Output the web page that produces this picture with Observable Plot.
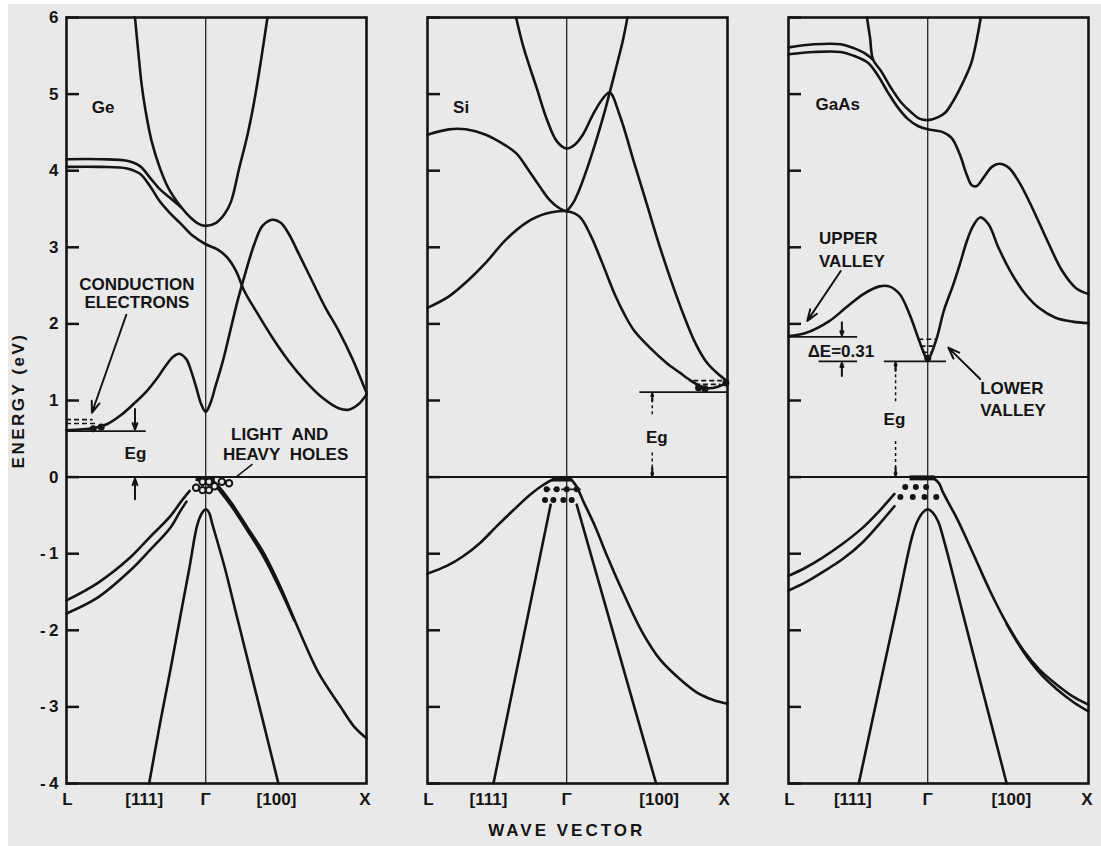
<!DOCTYPE html>
<html><head><meta charset="utf-8">
<script src="https://cdn.jsdelivr.net/npm/d3@7"></script>
<script src="https://cdn.jsdelivr.net/npm/@observablehq/plot@0.6"></script>
<style>
html,body{margin:0;padding:0;background:#e9e9e9;}
#chart{position:absolute;left:0;top:0;}
.edgeL{position:absolute;left:0;top:0;width:8px;height:846px;background:#fff;}
.edgeT{position:absolute;left:0;top:0;width:1101px;height:4px;background:#fff;}
</style></head><body>
<div id="chart"></div><div class="edgeL"></div><div class="edgeT"></div>
<script>
// ---------- categories & ticks ----------
const panels = ["Ge", "Si", "GaAs"];
const yTicks = [-4, -3, -2, -1, 0, 1, 2, 3, 4, 5, 6];
// x tick labels per panel: [panel, k, label]
const xTickLabels = [
  ["Ge", -0.86, "L"], ["Ge", -0.383, "[111]"], ["Ge", 0, "Γ"], ["Ge", 0.44, "[100]"], ["Ge", 0.99, "X"],
  ["Si", -0.86, "L"], ["Si", -0.487, "[111]"], ["Si", 0, "Γ"], ["Si", 0.575, "[100]"], ["Si", 0.98, "X"],
  ["GaAs", -0.86, "L"], ["GaAs", -0.466, "[111]"], ["GaAs", 0, "Γ"], ["GaAs", 0.52, "[100]"], ["GaAs", 0.99, "X"]
];

// ---------- Ge bands [k, E(eV)] ----------
const geUpper = [[-0.440,6.00],[-0.420,5.56],[-0.399,5.13],[-0.374,4.78],[-0.337,4.39],[-0.286,4.04],[-0.234,3.78],[-0.151,3.52],[-0.090,3.38],[-0.038,3.30],[0,3.28],[0.065,3.32],[0.116,3.43],[0.158,3.60],[0.209,4.04],[0.260,4.47],[0.302,4.91],[0.343,5.43],[0.384,6.00]];
const geFlatA = [[-0.866,4.15],[-0.656,4.15],[-0.490,4.13],[-0.409,4.06],[-0.347,3.91],[-0.286,3.76],[-0.224,3.65],[-0.151,3.52]];
const geFlatB = [[-0.866,4.05],[-0.656,4.05],[-0.490,4.03],[-0.409,3.96],[-0.347,3.80],[-0.286,3.60],[-0.224,3.45],[-0.151,3.30],[-0.080,3.15],[0,3.04],[0.075,2.97],[0.137,2.86],[0.189,2.69],[0.240,2.43],[0.312,2.17],[0.415,1.82],[0.518,1.51],[0.621,1.25],[0.724,1.04],[0.827,0.90],[0.889,0.88],[0.950,0.95],[1.0,1.08]];
const geCond1 = [[-0.866,0.61],[-0.698,0.64],[-0.615,0.69],[-0.533,0.80],[-0.451,0.95],[-0.368,1.12],[-0.306,1.28],[-0.250,1.45],[-0.203,1.57],[-0.165,1.61],[-0.121,1.54],[-0.090,1.38],[-0.059,1.17],[-0.028,0.95],[0,0.85],[0.030,0.97],[0.060,1.18],[0.106,1.51],[0.147,1.86],[0.198,2.30],[0.250,2.69],[0.302,3.04],[0.353,3.28],[0.415,3.36],[0.467,3.32],[0.518,3.17],[0.580,2.91],[0.662,2.56],[0.745,2.21],[0.827,1.91],[0.909,1.56],[0.971,1.25],[1.0,1.10]];
const geVL1 = [[-0.866,-1.61],[-0.67,-1.38],[-0.47,-1.05],[-0.35,-0.79],[-0.22,-0.51],[-0.15,-0.31],[-0.10,-0.18]];
const geVL2 = [[-0.866,-1.78],[-0.67,-1.57],[-0.47,-1.22],[-0.35,-0.96],[-0.22,-0.66],[-0.16,-0.45],[-0.12,-0.32]];
const geVR1 = [[0.02,-0.01],[0.08,-0.12],[0.157,-0.33],[0.26,-0.66],[0.363,-1.0],[0.466,-1.44],[0.58,-2.0],[0.70,-2.55],[0.839,-3.0],[0.92,-3.25],[1.0,-3.41]];
const geVR2 = [[0.02,-0.02],[0.08,-0.16],[0.157,-0.37],[0.26,-0.70],[0.363,-1.05],[0.466,-1.48],[0.55,-1.87]];
const geSplit = [[-0.352,-4.0],[-0.288,-3.26],[-0.221,-2.53],[-0.159,-1.83],[-0.101,-1.18],[-0.052,-0.62],[-0.02,-0.46],[0,-0.42],[0.02,-0.46],[0.042,-0.62],[0.118,-1.18],[0.195,-1.83],[0.278,-2.53],[0.365,-3.26],[0.452,-4.0]];

// ---------- Si bands ----------
const siUpper = [[-0.315,6.0],[-0.27,5.62],[-0.187,5.08],[-0.12,4.65],[-0.06,4.38],[0,4.29],[0.05,4.34],[0.10,4.47],[0.16,4.72],[0.22,4.93],[0.267,5.02],[0.33,4.72],[0.42,4.10],[0.50,3.55],[0.58,3.00],[0.66,2.50],[0.73,2.10],[0.80,1.75],[0.87,1.50],[0.94,1.35],[1.0,1.25]];
const siB = [[0,3.47],[0.04,3.58],[0.08,3.76],[0.122,4.0],[0.184,4.40],[0.236,4.77],[0.267,5.02],[0.309,5.36],[0.347,5.68],[0.378,6.0]];
const siC = [[-0.866,4.47],[-0.732,4.54],[-0.628,4.54],[-0.503,4.47],[-0.42,4.38],[-0.315,4.23],[-0.232,3.99],[-0.170,3.80],[-0.107,3.62],[-0.045,3.51],[0,3.47]];
const siD = [[-0.866,2.21],[-0.732,2.36],[-0.628,2.54],[-0.503,2.80],[-0.378,3.10],[-0.253,3.32],[-0.128,3.44],[0,3.47],[0.08,3.40],[0.15,3.15],[0.22,2.80],[0.30,2.38],[0.36,2.12],[0.42,1.91],[0.517,1.69],[0.621,1.49],[0.705,1.36],[0.778,1.25],[0.829,1.19],[0.88,1.16],[0.94,1.18],[1.0,1.24]];
const siVL = [[-0.866,-1.26],[-0.746,-1.16],[-0.642,-1.03],[-0.539,-0.86],[-0.435,-0.64],[-0.331,-0.43],[-0.228,-0.23],[-0.145,-0.10],[-0.083,-0.03],[0,0]];
const siVR = [[0.02,-0.01],[0.06,-0.12],[0.104,-0.32],[0.18,-0.66],[0.249,-1.02],[0.36,-1.55],[0.466,-2.01],[0.58,-2.38],[0.705,-2.64],[0.808,-2.81],[0.912,-2.91],[1.0,-2.96]];
const siSplitL = [[-0.10,-0.36],[-0.456,-4.0]];
const siSplitR = [[0.062,-0.36],[0.556,-4.0]];

// ---------- GaAs bands ----------
const gaUpper = [[-0.378,6.0],[-0.359,5.74],[-0.340,5.45],[-0.290,5.30],[-0.228,5.08],[-0.165,4.89],[-0.102,4.76],[-0.052,4.68],[0,4.66],[0.065,4.70],[0.11,4.76],[0.15,4.88],[0.19,5.03],[0.23,5.20],[0.27,5.40],[0.30,5.66],[0.33,6.0]];
const gaFlatA = [[-0.866,5.61],[-0.709,5.65],[-0.541,5.65],[-0.460,5.60],[-0.398,5.54],[-0.340,5.45]];
const gaFlatB = [[-0.866,5.52],[-0.709,5.55],[-0.541,5.55],[-0.460,5.50],[-0.372,5.41],[-0.309,5.24],[-0.247,5.02],[-0.184,4.82],[-0.121,4.67],[-0.058,4.58],[0,4.54],[0.086,4.51],[0.148,4.43],[0.200,4.21],[0.242,3.95],[0.274,3.81],[0.305,3.80],[0.347,3.91],[0.399,4.05],[0.445,4.09],[0.503,4.04],[0.566,3.86],[0.649,3.52],[0.754,3.04],[0.837,2.69],[0.921,2.47],[1.0,2.39]];
const gaCond1 = [[-0.866,1.84],[-0.76,1.88],[-0.61,2.04],[-0.51,2.21],[-0.40,2.39],[-0.30,2.49],[-0.24,2.49],[-0.175,2.39],[-0.112,2.12],[-0.06,1.82],[-0.02,1.60],[0,1.52],[0.02,1.60],[0.06,1.84],[0.10,2.17],[0.16,2.52],[0.20,2.78],[0.24,3.06],[0.28,3.27],[0.326,3.39],[0.378,3.30],[0.441,2.99],[0.524,2.65],[0.607,2.39],[0.691,2.21],[0.795,2.08],[0.90,2.03],[1.0,2.01]];
const gaVL1 = [[-0.866,-1.29],[-0.758,-1.18],[-0.654,-1.05],[-0.529,-0.87],[-0.404,-0.66],[-0.300,-0.44],[-0.207,-0.22]];
const gaVL2 = [[-0.866,-1.48],[-0.758,-1.37],[-0.654,-1.24],[-0.529,-1.07],[-0.404,-0.85],[-0.300,-0.61],[-0.207,-0.38]];
const gaVR1 = [[0.04,-0.02],[0.07,-0.08],[0.095,-0.20],[0.179,-0.53],[0.283,-1.00],[0.386,-1.48],[0.491,-1.91],[0.595,-2.26],[0.698,-2.52],[0.803,-2.71],[0.907,-2.87],[1.0,-2.97]];
const gaVR2 = [[0.491,-1.92],[0.595,-2.28],[0.698,-2.56],[0.803,-2.77],[0.907,-2.94],[1.0,-3.06]];
const gaSplit = [[-0.429,-4.0],[-0.35,-3.23],[-0.27,-2.45],[-0.18,-1.58],[-0.10,-0.80],[-0.065,-0.58],[-0.03,-0.46],[0,-0.42],[0.03,-0.46],[0.065,-0.58],[0.10,-0.82],[0.20,-1.63],[0.30,-2.45],[0.40,-3.26],[0.491,-4.0]];

// ---------- annotations ----------
// energy level markers: [panel, E, k1, k2]
const levelLines = [["Ge",0.60,-0.866,-0.37],["Si",1.11,0.455,1.0],["GaAs",1.83,-0.866,-0.436],["GaAs",1.51,-0.676,-0.436],["GaAs",1.51,-0.27,0.117]];
// electrons drawn as dashes: [panel, E, k1, k2]
const electronDashes = [["Ge",0.75,-0.866,-0.70],["Ge",0.70,-0.866,-0.68],["Si",1.26,0.79,0.97],["Si",1.21,0.80,0.96],["GaAs",1.80,-0.055,0.055],["GaAs",1.71,-0.042,0.042],["GaAs",1.63,-0.03,0.03],["Si",-0.16,-0.13,0.09]];
// electron pockets: [panel, k, E]
const electronBlobs = [["Ge",-0.70,0.63],["Ge",-0.65,0.655],["Si",0.82,1.165],["Si",0.86,1.155],["Si",0.99,1.23],["GaAs",0,1.55]];
// band-top heavy marks: [panel, E, k1, k2]
const topMarks = [["Ge",-0.02,-0.06,0.06],["Si",-0.025,-0.09,0.03],["GaAs",-0.01,-0.11,0.045]];
// holes: open circles (Ge), filled dots (Si, GaAs): [panel, k, E]
const holesOpen = [["Ge",-0.06,-0.14],["Ge",-0.02,-0.06],["Ge",-0.02,-0.17],["Ge",0.02,-0.06],["Ge",0.02,-0.17],["Ge",0.055,-0.12],["Ge",0.10,-0.06],["Ge",0.145,-0.08]];
const holesFilled = [["Si",-0.125,-0.16],["Si",-0.062,-0.16],["Si",0,-0.16],["Si",0.062,-0.16],["Si",-0.135,-0.30],["Si",-0.083,-0.30],["Si",-0.021,-0.30],["Si",0.031,-0.30],
  ["GaAs",-0.14,-0.13],["GaAs",-0.074,-0.13],["GaAs",-0.01,-0.13],["GaAs",-0.17,-0.26],["GaAs",-0.093,-0.26],["GaAs",-0.02,-0.26],["GaAs",0.053,-0.26]];
// arrows: [panel, k1, E1, k2, E2]
const arrowsSolid = [["Ge",-0.494,2.12,-0.708,0.84],["Ge",-0.44,0.89,-0.44,0.62],["Ge",-0.44,-0.29,-0.44,-0.02],
  ["GaAs",-0.541,2.69,-0.749,2.04],["GaAs",0.326,1.28,0.128,1.69],["GaAs",-0.534,2.02,-0.534,1.85],["GaAs",-0.534,1.32,-0.534,1.49]];
const arrowsDashed = [["Si",0.532,0.82,0.532,1.09],["Si",0.532,0.32,0.532,0.02],["GaAs",-0.20,0.99,-0.20,1.49],["GaAs",-0.20,0.47,-0.20,0.02]];
const leaders = [["Ge",0.291,0.17,0.188,0.0]];
// text labels: [panel, k, E, text]
const labelsMiddle = [["Ge",-0.638,4.82,"Ge"],["Ge",-0.428,2.52,"CONDUCTION"],["Ge",-0.428,2.28,"ELECTRONS"],["Ge",-0.437,0.31,"Eg"],
  ["Ge",0.46,0.56,"LIGHT\u00a0\u00a0AND"],["Ge",0.497,0.29,"HEAVY\u00a0\u00a0HOLES"],["Si",-0.657,4.82,"Si"],["Si",0.56,0.52,"Eg"],
  ["GaAs",-0.56,4.86,"GaAs"],["GaAs",-0.54,1.64,"ΔE=0.31"],["GaAs",-0.207,0.75,"Eg"]];
const labelsStart = [["GaAs",-0.676,3.11,"UPPER"],["GaAs",-0.676,2.81,"VALLEY"],["GaAs",0.326,1.16,"LOWER"],["GaAs",0.326,0.87,"VALLEY"]];
const axisTitles = [["Ge", -0.866, 1.0, "ENERGY (eV)"]];
const xTitle = [["Si", 0, "WAVE VECTOR"]];

// ---------- build tables ----------
const bandList = [
  ["Ge","geUpper",geUpper],["Ge","geFlatA",geFlatA],["Ge","geFlatB",geFlatB],["Ge","geCond1",geCond1],
  ["Ge","geVL1",geVL1],["Ge","geVL2",geVL2],["Ge","geVR1",geVR1],["Ge","geVR2",geVR2],["Ge","geSplit",geSplit],
  ["Si","siUpper",siUpper],["Si","siB",siB],["Si","siC",siC],["Si","siD",siD],["Si","siVL",siVL],["Si","siVR",siVR],["Si","siSplitL",siSplitL],["Si","siSplitR",siSplitR],
  ["GaAs","gaUpper",gaUpper],["GaAs","gaFlatA",gaFlatA],["GaAs","gaFlatB",gaFlatB],["GaAs","gaCond1",gaCond1],
  ["GaAs","gaVL1",gaVL1],["GaAs","gaVL2",gaVL2],["GaAs","gaVR1",gaVR1],["GaAs","gaVR2",gaVR2],["GaAs","gaSplit",gaSplit]
];
const bandRows = bandList.flatMap(([panel, id, pts]) => pts.map(([k, E]) => ({panel, id, k, E})));
const seg = a => a.map(([panel, E, k1, k2]) => ({panel, E, k1, k2}));
const pt = a => a.map(([panel, k, E]) => ({panel, k, E}));
const arr = a => a.map(([panel, k1, E1, k2, E2]) => ({panel, k1, E1, k2, E2}));
const txt = a => a.map(([panel, k, E, t]) => ({panel, k, E, t}));
const dashedHeads = arrowsDashed.map(([panel, k1, E1, k2, E2]) => ({panel, k1: k2, E1: E2 - Math.sign(E2 - E1) * 0.1, k2, E2}));
const ink = "#141414";
const fmt = d => d < 0 ? "-\u2009" + (-d) : String(d);

const chart = Plot.plot({
  width: 1101, height: 846,
  marginLeft: 66, marginRight: 13, marginTop: 17, marginBottom: 63,
  style: {background: "transparent", color: ink, fontFamily: "'Liberation Sans', Arial, sans-serif", fontSize: "17px", fontWeight: "bold"},
  fx: {domain: panels, paddingInner: 61 / 361, paddingOuter: 0, axis: null, label: null},
  x: {domain: [-0.866, 1], axis: null},
  y: {domain: [-4, 6]},
  marks: [
    Plot.ruleX([0], {stroke: ink, strokeWidth: 1.2}),
    Plot.ruleY([0], {stroke: ink, strokeWidth: 2}),
    Plot.frame({stroke: ink, strokeWidth: 2.6}),
    Plot.axisY(yTicks, {tickSize: 0, tickPadding: 8, tickFormat: fmt, label: null}),
    Plot.axisY(yTicks, {tickSize: -13, fill: "none", label: null, facetAnchor: null, strokeWidth: 2.5, stroke: ink}),
    Plot.line(bandRows, {x: "k", y: "E", z: "id", fx: "panel", curve: "catmull-rom", stroke: ink, strokeWidth: 2.6}),
    Plot.ruleY(seg(levelLines), {y: "E", x1: "k1", x2: "k2", fx: "panel", stroke: ink, strokeWidth: 1.8}),
    Plot.ruleY(seg(electronDashes), {y: "E", x1: "k1", x2: "k2", fx: "panel", stroke: ink, strokeWidth: 1.6, strokeDasharray: "5,3"}),
    Plot.ruleY(seg(topMarks), {y: "E", x1: "k1", x2: "k2", fx: "panel", stroke: ink, strokeWidth: 5}),
    Plot.dot(pt(electronBlobs), {x: "k", y: "E", fx: "panel", r: 3.5, fill: ink, stroke: "none"}),
    Plot.dot(pt(holesOpen), {x: "k", y: "E", fx: "panel", r: 3.2, fill: "#e9e9e9", stroke: ink, strokeWidth: 2}),
    Plot.dot(pt(holesFilled), {x: "k", y: "E", fx: "panel", r: 3, fill: ink, stroke: "none"}),
    Plot.arrow(arr(arrowsSolid), {x1: "k1", y1: "E1", x2: "k2", y2: "E2", fx: "panel", stroke: ink, strokeWidth: 2, headLength: 9, headAngle: 40}),
    Plot.link(arr(arrowsDashed), {x1: "k1", y1: "E1", x2: "k2", y2: "E2", fx: "panel", stroke: ink, strokeWidth: 1.5, strokeDasharray: "3,3"}),
    Plot.arrow(dashedHeads, {x1: "k1", y1: "E1", x2: "k2", y2: "E2", fx: "panel", stroke: ink, strokeWidth: 2.2, headLength: 9, headAngle: 40}),
    Plot.link(arr(leaders), {x1: "k1", y1: "E1", x2: "k2", y2: "E2", fx: "panel", stroke: ink, strokeWidth: 1.5}),
    Plot.text(txt(labelsMiddle), {x: "k", y: "E", text: "t", fx: "panel", fill: ink}),
    Plot.text(txt(labelsStart), {x: "k", y: "E", text: "t", fx: "panel", fill: ink, textAnchor: "start"}),
    Plot.text(xTickLabels.map(([panel, k, t]) => ({panel, k, t})), {x: "k", text: "t", fx: "panel", frameAnchor: "bottom", dy: 21, fill: ink}),
    Plot.text(txt(axisTitles), {x: "k", y: "E", text: "t", fx: "panel", dx: -48, rotate: -90, textAnchor: "middle", fill: ink}),
    Plot.text(xTitle.map(([panel, k, t]) => ({panel, k, t})), {x: "k", text: "t", fx: "panel", frameAnchor: "bottom", dy: 52, fill: ink})
  ]
});
chart.querySelectorAll("text").forEach(t => {
  if (t.textContent === "WAVE VECTOR") t.setAttribute("letter-spacing", "3");
  if (t.textContent === "ENERGY (eV)") t.setAttribute("letter-spacing", "2.5");
});
document.getElementById("chart").appendChild(chart);
</script></body></html>
